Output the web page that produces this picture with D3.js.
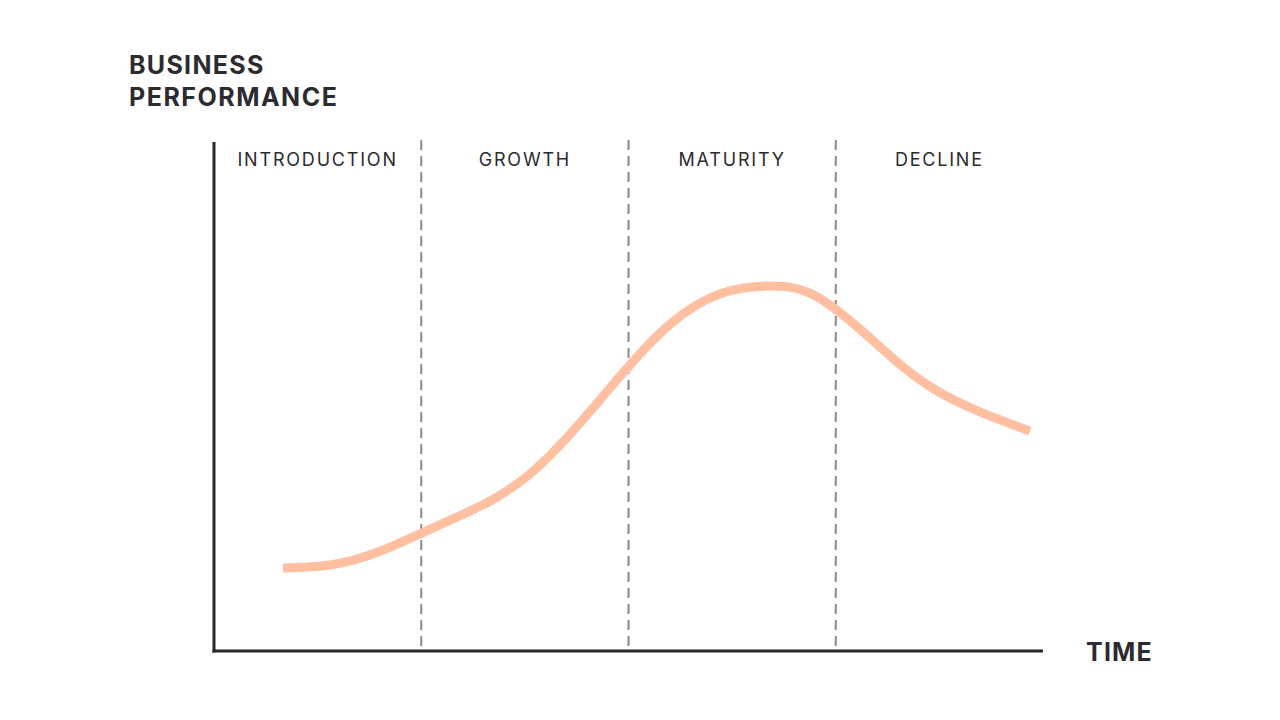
<!DOCTYPE html>
<html>
<head>
<meta charset="utf-8">
<script src="https://cdn.jsdelivr.net/npm/d3@7"></script>
<style>
  body { margin: 0; background: #fff; }
  text { font-family: Inter, "Noto Sans", sans-serif; fill: #2b2b30; }
</style>
</head>
<body>
<div id="chart-area"></div>
<script>
/* Product life cycle chart */

// data
const phases = ["INTRODUCTION", "GROWTH", "MATURITY", "DECLINE"]
const timeVals = [0.333, 0.56, 0.80, 1.139, 1.525, 1.911, 2.2, 2.45, 2.683, 2.90, 3.165, 3.489, 3.937]
const perfVals = [16.3, 16.9, 19.6, 25.7, 34.8, 51.7, 64.2, 70.3, 71.7, 69.8, 61.5, 51.1, 43.2]

const W = 1280, H = 720
const MARGIN = { LEFT: 214, RIGHT: 237, TOP: 142, BOTTOM: 69 }

const svg = d3.select("#chart-area").append("svg")
    .attr("width", W)
    .attr("height", H)

// scales
const x = d3.scaleLinear()
    .domain([0, phases.length])
    .range([MARGIN.LEFT, W - MARGIN.RIGHT])

const y = d3.scaleLinear()
    .domain([0, 100])
    .range([H - MARGIN.BOTTOM, MARGIN.TOP])

// phase dividers
svg.selectAll(".divider")
    .data(d3.range(1, phases.length))
    .enter().append("line")
    .attr("class", "divider")
    .attr("x1", d => x(d)).attr("x2", d => x(d))
    .attr("y1", y(100) - 2).attr("y2", y(0))
    .attr("stroke", "#8a8a8a")
    .attr("stroke-width", 2)
    .attr("stroke-dasharray", "10,6")

// phase labels
svg.selectAll(".phase")
    .data(phases)
    .enter().append("text")
    .attr("class", "phase")
    .attr("x", (d, i) => x(i + 0.5))
    .attr("y", 166)
    .attr("text-anchor", "middle")
    .attr("font-size", 18)
    .attr("letter-spacing", 1.8)
    .text(d => d)

// axes (no ticks)
svg.append("line")
    .attr("x1", x(0)).attr("x2", x(0))
    .attr("y1", y(100)).attr("y2", y(0) + 1.5)
    .attr("stroke", "#26262b").attr("stroke-width", 3)

svg.append("line")
    .attr("x1", x(0) - 1.5).attr("x2", x(phases.length))
    .attr("y1", y(0)).attr("y2", y(0))
    .attr("stroke", "#26262b").attr("stroke-width", 3)

// curve
const pts = timeVals.map((t, i) => [t, perfVals[i]])
const line = d3.line()
    .x(d => x(d[0]))
    .y(d => y(d[1]))
    .curve(d3.curveNatural)

svg.append("path")
    .datum(pts)
    .attr("d", line)
    .attr("fill", "none")
    .attr("stroke", "#ffbfa0")
    .attr("stroke-width", 9)

// axis titles
svg.append("text")
    .attr("x", 129).attr("y", 74)
    .attr("font-size", 25).attr("font-weight", 700)
    .attr("letter-spacing", 1.3)
    .text("BUSINESS")
svg.append("text")
    .attr("x", 129).attr("y", 106)
    .attr("font-size", 25).attr("font-weight", 700)
    .attr("letter-spacing", 1.5)
    .text("PERFORMANCE")
svg.append("text")
    .attr("x", 1086).attr("y", 661)
    .attr("font-size", 25).attr("font-weight", 700)
    .attr("letter-spacing", 1.2)
    .text("TIME")
</script>
</body>
</html>
